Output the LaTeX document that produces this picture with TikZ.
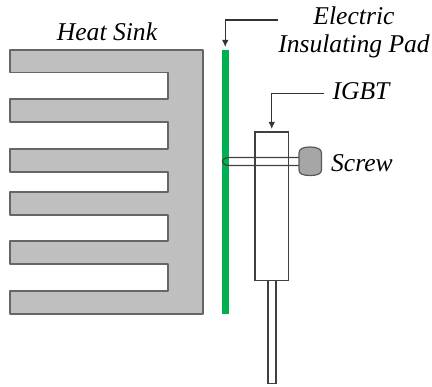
\documentclass[tikz,border=0pt]{standalone}
\usepackage{fontspec}
\usetikzlibrary{arrows.meta}
\setmainfont{Liberation Serif}
\definecolor{padgreen}{RGB}{0,176,80}
\tikzset{
    partlabel/.style={font=\itshape\fontsize{25.6}{30}\selectfont, inner sep=0pt, anchor=center},
    partline/.style={draw=black!75, line width=1.2pt, fill=white, inner sep=0pt, outer sep=0pt, anchor=north west},
    pointer/.style={black!80, line width=1.1pt, -{Latex[length=7pt,width=6.5pt]}, shorten >=3pt},
}
\begin{document}
\begin{tikzpicture}[x=1pt, y=-1pt]
        \useasboundingbox (0,0) rectangle (432,387);
        % heat sink
        \filldraw[fill=black!25, draw=black!60, line width=1.3pt, line join=round]
            (10,50) -- (203,50) -- (203,314) -- (10,314) -- (10,291) -- (168,291)
            -- (168,264) -- (10,264) -- (10,241) -- (168,241)
            -- (168,215) -- (10,215) -- (10,192) -- (168,192)
            -- (168,172) -- (10,172) -- (10,149) -- (168,149)
            -- (168,122) -- (10,122) -- (10,99) -- (168,99)
            -- (168,72.5) -- (10,72.5) -- cycle;

        % pad
        \node[fill=padgreen, inner sep=0pt, outer sep=0pt, anchor=north west, minimum width=7.5pt, minimum height=264pt] (pad) at (221.5,50){};

        % igbt
        \node[partline, minimum width=33.5pt, minimum height=148.5pt] (igbt) at (255,132){};
        \node[partline, minimum width=8pt, minimum height=103pt] (lead) at (268,280.5){};

        % screw
        \draw[black!75, line width=1.2pt] (299,157.5) -- (230,157.5) .. controls (220,157.5) and (220,165.5) .. (230,165.5) -- (299,165.5);
        \filldraw[fill=black!35, draw=black!65, line width=1.2pt]
            (299,153) .. controls (299,149) and (303,147) .. (310,147)
            .. controls (317,147) and (321.5,149) .. (321.5,153) -- (321.5,170)
            .. controls (321.5,174) and (317,175.5) .. (310,175.5)
            .. controls (303,175.5) and (299,174) .. (299,170) -- cycle;

        % labels
        \node[partlabel] (sinklabel) at (107,32){Heat Sink};
        \node[partlabel] (padlabela) at (354,16){Electric};
        \node[partlabel] (padlabelb) at (354,46){Insulating Pad};
        \node[partlabel] (igbtlabel) at (361,91){IGBT};
        \node[partlabel] (screwlabel) at (362,163){Screw};

        % arrows
        \coordinate (padstart) at (278,20);
        \coordinate (igbtstart) at (324,93.5);
        \draw[pointer] (padstart) -| (pad);
        \draw[pointer] (igbtstart) -| (igbt);
\end{tikzpicture}
\end{document}
